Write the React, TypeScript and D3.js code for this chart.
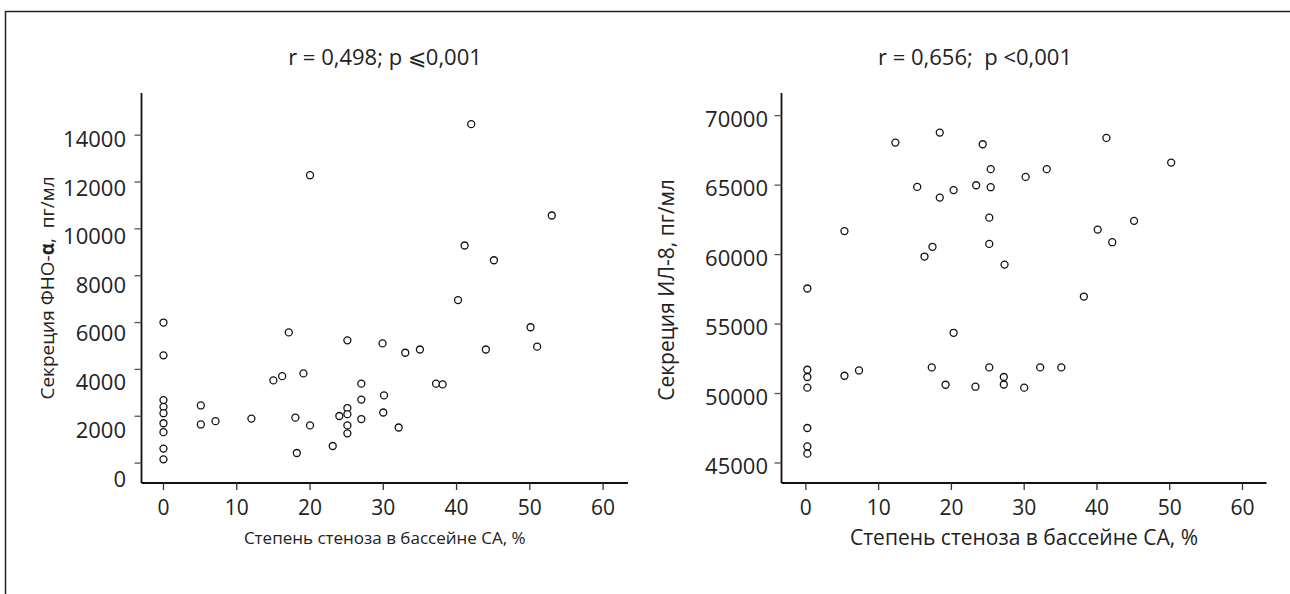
import React from "react";
import * as d3 from "d3";

// Left panel: TNF-alpha secretion vs stenosis degree
const leftX = [0, 0, 0, 0, 0, 0, 0, 0, 0, 5.1, 5.1, 7.1, 12, 15, 16.2, 17.1, 19.1, 18, 18.2, 20, 20, 23.1, 24, 25.1, 25.1, 25.1, 25.1, 25.1, 27, 27, 27, 29.9, 30.1, 30, 32.1, 33, 35, 37.2, 38.1, 40.2, 41.1, 42, 44, 45.1, 50.1, 51, 53];
const leftY = [6000, 4600, 2690, 2400, 2130, 1700, 1320, 620, 160, 2460, 1650, 1790, 1900, 3530, 3710, 5580, 3830, 1940, 430, 1610, 12290, 730, 2010, 5240, 2350, 2090, 1610, 1270, 3390, 2710, 1880, 5110, 2890, 2160, 1520, 4710, 4850, 3390, 3360, 6960, 9290, 14470, 4850, 8660, 5800, 4970, 10570];

// Right panel: IL-8 secretion vs stenosis degree
const rightX = [0.2, 0.2, 0.2, 0.2, 0.2, 0.2, 0.2, 5.3, 5.3, 7.3, 12.3, 15.3, 16.3, 17.4, 17.3, 18.4, 18.4, 19.2, 20.3, 20.3, 23.3, 23.4, 24.3, 25.4, 25.4, 25.2, 25.2, 25.2, 27.3, 27.2, 27.2, 30.2, 30.0, 32.2, 33.1, 35.1, 38.2, 40.1, 41.3, 42.1, 45.1, 50.2];
const rightY = [57560, 51710, 51190, 50420, 47520, 46190, 45670, 61690, 51280, 51660, 68060, 64870, 59860, 60560, 51880, 68780, 64100, 50630, 64640, 54370, 50490, 64990, 67940, 66150, 64850, 62660, 60770, 51880, 59280, 51190, 50650, 65590, 50420, 51880, 66150, 51880, 56980, 61800, 68400, 60890, 62430, 66620];

const xTicks = [0, 10, 20, 30, 40, 50, 60];
const leftYTicks = [0, 2000, 4000, 6000, 8000, 10000, 12000, 14000];
const rightYTicks = [45000, 50000, 55000, 60000, 65000, 70000];

const leftTitle = "r = 0,498; p \u2A7D0,001";
const rightTitle = "r = 0,656;  p <0,001";
const xTitle = "Степень стеноза в бассейне СА, %";
const leftYTitleMain = "Секреция ФНО-";
const leftYTitleBold = "α";
const leftYTitleEnd = ",  пг/мл";
const rightYTitle = "Секреция ИЛ-8, пг/мл";

const FONT = "'Open Sans', 'Noto Sans', sans-serif";
const TXT = "#222";
const PRE: React.CSSProperties = { whiteSpace: "pre" };

function Panel(props: {
  xs: number[];
  ys: number[];
  x: d3.ScaleLinear<number, number>;
  y: d3.ScaleLinear<number, number>;
  yTicks: number[];
  yLabelY: (v: number) => number;
  yLabelRight: number;
  title: string;
  titleX: number;
  titleSize: number;
  xTitleSize: number;
  yTitle: React.ReactNode;
  yTitleX: number;
  yTitleY: number;
  yTitleSize: number;
}) {
  const { xs, ys, x, y, yTicks, yLabelY, yLabelRight, title, titleX, titleSize, xTitleSize, yTitle, yTitleX, yTitleY, yTitleSize } = props;
  const [x0, x1] = x.range();
  const [y0, y1] = y.range();
  const tick = 7;
  return (
    <g>
      <text x={titleX} y={56} textAnchor="middle" dominantBaseline="central" fontSize={titleSize} fill={TXT} fontFamily={FONT} style={PRE}>
        {title}
      </text>
      <line x1={x0} x2={x0} y1={y1} y2={y0} stroke="#111" strokeWidth={1.8} />
      <line x1={x0} x2={x1} y1={y0} y2={y0} stroke="#111" strokeWidth={1.8} />
      {yTicks.map((t) => (
        <g key={"y" + t}>
          <line x1={x0 - tick} x2={x0} y1={y(t)} y2={y(t)} stroke="#555" strokeWidth={1.3} />
          <text x={yLabelRight} y={yLabelY(t)} textAnchor="end" dominantBaseline="central" fontSize={22} fill={TXT} fontFamily={FONT}>
            {t}
          </text>
        </g>
      ))}
      {xTicks.map((t) => (
        <g key={"x" + t}>
          <line x1={x(t)} x2={x(t)} y1={y0} y2={y0 + tick} stroke="#333" strokeWidth={1.3} />
          <text x={x(t)} y={y0 + 24} textAnchor="middle" dominantBaseline="central" fontSize={21} fill={TXT} fontFamily={FONT}>
            {t}
          </text>
        </g>
      ))}
      <text x={(x0 + x1) / 2} y={537} textAnchor="middle" dominantBaseline="central" fontSize={xTitleSize} fill={TXT} fontFamily={FONT} style={PRE}>
        {xTitle}
      </text>
      <text
        transform={`translate(${yTitleX},${yTitleY}) rotate(-90)`}
        textAnchor="middle"
        dominantBaseline="central"
        fontSize={yTitleSize}
        fill={TXT}
        fontFamily={FONT}
        style={PRE}
      >
        {yTitle}
      </text>
      {xs.map((v, i) => (
        <circle key={i} cx={x(v)} cy={y(ys[i])} r={3.5} fill="#fff" stroke="#111" strokeWidth={1.3} />
      ))}
    </g>
  );
}

export default function App() {
  const W = 1290;
  const H = 594;

  const lx = d3.scaleLinear().domain([-3, 63.4]).range([141.5, 628]);
  const ly = d3.scaleLinear().domain([-850, 15800]).range([483, 93]);
  const lLabel = d3.scaleLinear().domain([0, 14000]).range([478, 138]);

  const rx = d3.scaleLinear().domain([-3.35, 63.3]).range([781.5, 1266.5]);
  const ry = d3.scaleLinear().domain([43560, 71630]).range([483, 93]);

  return (
    <svg width={W} height={H} style={{ position: "absolute", left: 0, top: 0, background: "#fff" }}>
      <rect x={0} y={0} width={W} height={H} fill="#fff" />
      <path d={`M5.5,${H} L5.5,11.5 L${W},11.5`} fill="none" stroke="#222" strokeWidth={1.5} />
      <Panel
        xs={leftX}
        ys={leftY}
        x={lx}
        y={ly}
        yTicks={leftYTicks}
        yLabelY={(v) => lLabel(v)}
        yLabelRight={126}
        title={leftTitle}
        titleX={385}
        titleSize={22}
        xTitleSize={17}
        yTitle={
          <>
            {leftYTitleMain}
            <tspan fontWeight="bold">{leftYTitleBold}</tspan>
            {leftYTitleEnd}
          </>
        }
        yTitleX={47}
        yTitleY={288}
        yTitleSize={19}
      />
      <Panel
        xs={rightX}
        ys={rightY}
        x={rx}
        y={ry}
        yTicks={rightYTicks}
        yLabelY={(v) => ry(v) + 2}
        yLabelRight={768}
        title={rightTitle}
        titleX={975}
        titleSize={22}
        xTitleSize={21}
        yTitle={rightYTitle}
        yTitleX={666}
        yTitleY={290}
        yTitleSize={21}
      />
    </svg>
  );
}
